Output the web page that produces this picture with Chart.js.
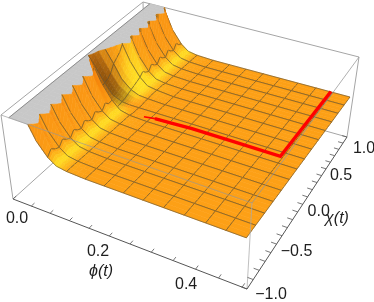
<!DOCTYPE html>
<html>
<head>
<meta charset="utf-8">
<style>
  html, body { margin: 0; padding: 0; background: #fff; }
  canvas { display: block; }
</style>
<script src="https://cdn.jsdelivr.net/npm/chart.js@4"></script>
</head>
<body>
<canvas id="surface" width="374" height="302"></canvas>
<script>
// Sample positions of the surface
const chiValues = [-1, -.952, -.905, -.857, -.81, -.762, -.714, -.667, -.619, -.571, -.524, -.476, -.429, -.381, -.333, -.286, -.238, -.19, -.143, -.095, -.048, 0, .048, .095, .143, .19, .238, .286, .333, .381, .429, .476, .524, .571, .619, .667, .714, .762, .81, .857, .905, .952, 1];
const phiValues = [.02, .04, .065, .085, .11, .13, .155, .2, .245, .29, .335, .38, .425, .47, .512, .553];
const meshPhi = [.02, .065, .11, .155, .2, .245, .29, .335, .38, .425, .47, .512, .553];

// Height of the flat part for each chi (fraction of the box height)
const flatLevel = [.58, .578, .576, .574, .571, .569, .567, .565, .563, .561, .559, .556, .554, .552, .55, .548, .546, .544, .541, .539, .537, .535, .533, .531, .529, .526, .524, .522, .52, .518, .516, .514, .511, .509, .507, .505, .503, .501, .499, .496, .494, .492, .49];

// Height above the flat part, one row per phi value up to .155
const lift020 = [1.4, 1.4, 1.4, 1.4, 1.4, 1.4, 1.4, 1.4, 1.4, 1.4, 1.4, 1.4, 1.4, 1.4, 1.4, 1.4, 1.4, 1.4, 1.4, 1.1, .9, .5, .56, .6, .8, 1, 1.4, 1.4, 1.4, 1.4, 1.4, 1.4, 1.4, 1.4, 1.4, 1.4, 1.4, 1.4, 1.4, 1.4, 1.4, 1.4, 1.4];
const lift040 = [1, 1, 1, 1, 1, 1, 1, 1, 1, 1, 1, 1, 1, 1, 1, 1, 1, 1, .9, .7, .4, .36, .4, .42, .5, .56, .65, .75, 1, 1, 1, 1, 1, 1, 1, 1, 1, 1, 1, 1, 1, 1, 1];
const lift065 = [.45, .72, .58, .45, .72, .58, .45, .72, .58, .45, .72, .58, .45, .72, .58, .45, .72, .58, .5, .12, .16, .18, .2, .24, .32, .36, .4, .47, .72, .58, .45, .72, .58, .45, .72, .58, .45, .72, .58, .45, .72, .58, .45];
const lift085 = [.25, .42, .33, .25, .42, .33, .25, .42, .33, .25, .42, .33, .25, .42, .33, .25, .42, .33, .3, .03, .05, .06, .08, .11, .16, .2, .23, .28, .42, .33, .25, .42, .33, .25, .42, .33, .25, .42, .33, .25, .42, .33, .25];
const lift110 = [.1, .16, .12, .1, .16, .12, .1, .16, .12, .1, .16, .12, .1, .16, .12, .1, .16, .12, .13, 0, 0, .01, .02, .04, .06, .08, .1, .12, .16, .12, .1, .16, .12, .1, .16, .12, .1, .16, .12, .1, .16, .12, .1];
const lift130 = [.03, .05, .04, .03, .05, .04, .03, .05, .04, .03, .05, .04, .03, .05, .04, .03, .05, .04, .04, 0, 0, 0, 0, .01, .02, .03, .04, .04, .05, .04, .03, .05, .04, .03, .05, .04, .03, .05, .04, .03, .05, .04, .03];
const lift155 = [.01, .01, .01, .01, .01, .01, .01, .01, .01, .01, .01, .01, .01, .01, .01, .01, .01, .01, .01, 0, 0, 0, 0, .01, .01, .02, .02, .02, .02, .02, .01, .01, .01, .01, .01, .01, .01, .01, .01, .01, .01, .01, .01];
const liftRows = [lift020, lift040, lift065, lift085, lift110, lift130, lift155];

// How dark the valley wall looks and how bright its foot is, per chi and per phi row
const valleyShadow = [0, 0, 0, 0, 0, 0, 0, 0, 0, 0, 0, 0, 0, 0, 0, 0, 0, 0, 0, 0, .4, .85, .9, .55, .15, 0, 0, 0, 0, 0, 0, 0, 0, 0, 0, 0, 0, 0, 0, 0, 0, 0, 0];
const shadowRows = [.5, .8, 1, 1, .6, 0, 0, 0, 0, 0, 0, 0, 0, 0, 0, 0];
const valleyGlow = [0, 0, 0, 0, 0, 0, 0, 0, 0, 0, 0, 0, 0, 0, 0, 0, 0, 0, 0, 0, 0, 0, 0, 0, .4, .8, 1, 1, .8, .5, .3, 0, 0, 0, 0, 0, 0, 0, 0, 0, 0, 0, 0];
const glowRows = [0, 0, .3, .8, 1, .6, .1, 0, 0, 0, 0, 0, 0, 0, 0, 0];

// Red path over the surface
const pathPhi = [.185, .21, .25, .3, .4, .507, .507];
const pathChi = [-.1, -.08, -.07, -.06, -.06, -.06, 1];

// Axis ticks and labels
const phiTicks = [0, .05, .1, .15, .2, .25, .3, .35, .4, .45, .5, .55];
const phiLabels = ['0.0', '0.2', '0.4'];
const phiLabelValues = [0, .2, .4];
const chiTicks = [-1, -.9, -.8, -.7, -.6, -.5, -.4, -.3, -.2, -.1, 0, .1, .2, .3, .4, .5, .6, .7, .8, .9, 1];
const chiLabels = ['\u22121.0', '\u22120.5', '0.0', '0.5', '1.0'];
const chiLabelValues = [-1, -.5, 0, .5, 1];

const phiAxisMax = .56;

// Box corners on screen: front-left, front-right, back-right, back-left
const bottomCorners = [[13, 199], [247, 289], [347, 137], [145, 80]];
const topCorners = [[1, 115], [252, 203], [359, 57], [143, 2]];

function squareToQuad(q) {
  const [[x0, y0], [x1, y1], [x2, y2], [x3, y3]] = q;
  const dx1 = x1 - x2, dx2 = x3 - x2, sx = x0 - x1 + x2 - x3;
  const dy1 = y1 - y2, dy2 = y3 - y2, sy = y0 - y1 + y2 - y3;
  const den = dx1 * dy2 - dx2 * dy1;
  const g = (sx * dy2 - dx2 * sy) / den;
  const h = (dx1 * sy - sx * dy1) / den;
  return (u, v) => {
    const d = g * u + h * v + 1;
    return {
      x: ((x1 - x0 + g * x1) * u + (x3 - x0 + h * x3) * v + x0) / d,
      y: ((y1 - y0 + g * y1) * u + (y3 - y0 + h * y3) * v + y0) / d
    };
  };
}

const bottomMap = squareToQuad(bottomCorners);
const topMap = squareToQuad(topCorners);

function project(phi, chi, w) {
  const u = phi / phiAxisMax, v = (chi + 1) / 2;
  const a = bottomMap(u, v), b = topMap(u, v);
  return { x: a.x + (b.x - a.x) * w, y: a.y + (b.y - a.y) * w };
}

const lastPhi = phiValues.length - 1;
const lastChi = chiValues.length - 1;

function liftAt(i, j) {
  const row = liftRows[i];
  return row ? row[j] : 0;
}

function heightAt(i, j) {
  return flatLevel[j] + liftAt(i, j);
}

// Cut a polygon at the top of the box
function clipAtTop(pts, keepAbove) {
  const out = [];
  const inside = p => keepAbove ? p.w >= 1 : p.w <= 1;
  pts.forEach((p, n) => {
    const q = pts[(n + 1) % pts.length];
    if (inside(p)) out.push(p);
    if (inside(p) !== inside(q)) {
      const t = (1 - p.w) / (q.w - p.w);
      out.push({ phi: p.phi + (q.phi - p.phi) * t, chi: p.chi + (q.chi - p.chi) * t, w: 1 });
    }
  });
  return out;
}

function mix(a, b, t) {
  t = Math.max(0, Math.min(1, t));
  return a.map((v, n) => v + (b[n] - v) * t);
}

function smooth(lo, hi, v) {
  const t = Math.max(0, Math.min(1, (v - lo) / (hi - lo)));
  return t * t * (3 - 2 * t);
}

const ORANGE = [253, 160, 22];
const YELLOW = [255, 224, 36];
const DEEP = [245, 132, 12];
const LIGHT = [255, 168, 28];
const BROWN = [128, 74, 12];

// Height with the saw teeth averaged out, so the light stays broad
function evenHeight(i, j) {
  const a = Math.max(0, j - 1), b = Math.min(lastChi, j + 1);
  let sum = 0;
  for (let n = a; n <= b; n++) sum += liftAt(i, n);
  return sum / (b - a + 1);
}

function vertexColor(i, j) {
  const i0 = Math.max(0, i - 1), i1 = Math.min(lastPhi, i + 1);
  const j0 = Math.max(0, j - 2), j1 = Math.min(lastChi, j + 2);
  const du = .45 * (evenHeight(i1, j) - evenHeight(i0, j)) / ((phiValues[i1] - phiValues[i0]) / phiAxisMax);
  const dv = .45 * (evenHeight(i, j1) - evenHeight(i, j0)) / ((chiValues[j1] - chiValues[j0]) / 2);
  const g = Math.hypot(du, dv);
  const glow = smooth(.08, .4, g) * (1 - smooth(.7, 1.7, g));
  let col = mix(ORANGE, YELLOW, glow);
  const steep = smooth(1.2, 2.4, g);
  col = mix(col, j % 3 === 0 ? LIGHT : DEEP, steep * (j % 3 === 2 ? .4 : .9));
  if (dv < 0) col = mix(col, DEEP, smooth(.3, .8, -dv) * .8);
  col = mix(col, YELLOW, valleyGlow[j] * glowRows[i]);
  col = mix(col, BROWN, valleyShadow[j] * shadowRows[i]);
  return col;
}

const colorGrid = phiValues.map((p, i) => chiValues.map((c, j) => vertexColor(i, j)));

const layers = [];

function addPolygon(points, color) {
  layers.push({
    data: points.concat([points[0]]),
    showLine: true,
    fill: 'shape',
    backgroundColor: color,
    borderColor: color,
    borderWidth: .6,
    pointRadius: 0,
    tension: 0
  });
}

function addLine(points, color, width) {
  layers.push({
    data: points,
    showLine: true,
    fill: false,
    borderColor: color,
    borderWidth: width,
    pointRadius: 0,
    tension: 0
  });
}

const BOX = 'rgb(165,165,165)';
const AXIS = 'rgb(85,85,85)';
const MESH = 'rgba(92,78,48,0.78)';

// Hidden box edges go first, the surface paints over them
addLine([project(0, -1, 0), project(0, 1, 0)], BOX, 1);
addLine([project(0, 1, 0), project(phiAxisMax, 1, 0)], BOX, 1);
addLine([project(0, 1, 0), project(0, 1, 1)], BOX, 1);
addLine([project(0, -1, 0), project(0, -1, 1)], BOX, 1);
addLine([project(phiAxisMax, 1, 0), project(phiAxisMax, 1, 1)], BOX, 1);
addLine([project(0, -1, 1), project(0, 1, 1)], BOX, 1);
addLine([project(0, 1, 1), project(phiAxisMax, 1, 1)], BOX, 1);

function corners(i, j) {
  return [
    { phi: phiValues[i], chi: chiValues[j], w: heightAt(i, j) },
    { phi: phiValues[i + 1], chi: chiValues[j], w: heightAt(i + 1, j) },
    { phi: phiValues[i + 1], chi: chiValues[j + 1], w: heightAt(i + 1, j + 1) },
    { phi: phiValues[i], chi: chiValues[j + 1], w: heightAt(i, j + 1) }
  ];
}

const toScreen = p => project(p.phi, p.chi, p.w);
const along = (a, b, t) => ({ phi: a.phi + (b.phi - a.phi) * t, chi: a.chi + (b.chi - a.chi) * t, w: a.w + (b.w - a.w) * t });

// Clipped top of the surface, flat grey on the box lid
for (let j = 0; j < lastChi; j++) {
  for (let i = 0; i < liftRows.length - 1; i++) {
    const part = clipAtTop(corners(i, j), true);
    if (part.length > 2) addPolygon(part.map(p => project(p.phi, p.chi, 1)), 'rgb(200,200,200)');
  }
}
addLine([project(.02, -1, 1), project(.02, 1, 1)], 'rgb(120,120,120)', .8);

// Surface cells, far to near; the steep rows are split so the light blends
for (let j = lastChi - 1; j >= 0; j--) {
  for (let i = 0; i < lastPhi; i++) {
    const quad = corners(i, j);
    const strips = i < liftRows.length ? 4 : 1;
    const near = mix(colorGrid[i][j], colorGrid[i][j + 1], .5);
    const far = mix(colorGrid[i + 1][j], colorGrid[i + 1][j + 1], .5);
    for (let k = 0; k < strips; k++) {
      const t0 = k / strips, t1 = (k + 1) / strips;
      const strip = [along(quad[0], quad[1], t0), along(quad[0], quad[1], t1), along(quad[3], quad[2], t1), along(quad[3], quad[2], t0)];
      const kept = clipAtTop(strip, false);
      if (kept.length < 3) continue;
      const col = mix(near, far, (t0 + t1) / 2);
      addPolygon(kept.map(toScreen), 'rgb(' + col.map(Math.round).join(',') + ')');
    }

    // Mesh lines that run along this cell's sides
    const sides = [];
    if (meshPhi.includes(phiValues[i])) sides.push([quad[0], quad[3]]);
    if (meshPhi.includes(phiValues[i + 1])) sides.push([quad[1], quad[2]]);
    if (j % 3 === 0) sides.push([quad[0], quad[1]]);
    if ((j + 1) % 3 === 0) sides.push([quad[3], quad[2]]);
    const pts = [];
    sides.forEach(([a, b]) => {
      const seg = clipAtTop([a, b], false);
      if (seg.length < 2) return;
      pts.push(toScreen(seg[0]), toScreen(seg[1]), { x: NaN, y: NaN });
    });
    if (pts.length) addLine(pts, MESH, .8);
  }
}

// Box edges in front of the surface
addLine([project(0, -1, 1), project(phiAxisMax, -1, 1)], 'rgba(150,150,150,0.65)', 1);
addLine([project(phiAxisMax, -1, 1), project(phiAxisMax, 1, 1)], 'rgba(150,150,150,0.75)', 1);
addLine([project(phiAxisMax, -1, 0), project(phiAxisMax, -1, 1)], 'rgba(170,170,170,0.75)', 1);

// Axes with their ticks
addLine([project(0, -1, 0), project(phiAxisMax, -1, 0)], AXIS, 1);
addLine([project(phiAxisMax, -1, 0), project(phiAxisMax, 1, 0)], AXIS, 1);
phiTicks.forEach(v => addLine([project(v, -1, 0), project(v, -.96, 0)], AXIS, .8));
chiTicks.forEach(v => addLine([project(phiAxisMax, v, 0), project(phiAxisMax - .012, v, 0)], AXIS, .8));

// Red path, thin where it leaves the valley
function pathHeight(chi) {
  let best = 0;
  chiValues.forEach((c, j) => { if (Math.abs(c - chi) < Math.abs(chiValues[best] - chi)) best = j; });
  return flatLevel[best] + .005;
}
const pathPoints = pathPhi.map((p, n) => project(p, pathChi[n], pathHeight(pathChi[n])));
addLine(pathPoints.slice(0, 2), 'rgb(255,0,0)', 1.6);
addLine(pathPoints.slice(1), 'rgb(255,0,0)', 3.4);

const TEXT = 'rgb(30,30,30)';
// Screen offsets of the labels from their ticks
const phiLabelOffsets = [[4, 20], [9, 23], [13, 24]];
const chiLabelOffsets = [[24, 6], [20, 8], [16, 7], [15, 7], [17, 12]];

const labelPlugin = {
  id: 'labelPlugin',
  afterDraw(chart) {
    const { ctx, scales } = chart;
    const place = (p, dx, dy) => [scales.x.getPixelForValue(p.x) + dx, scales.y.getPixelForValue(p.y) + dy];
    ctx.save();
    ctx.fillStyle = TEXT;
    ctx.textAlign = 'center';
    ctx.textBaseline = 'middle';
    ctx.font = '16px "Liberation Sans"';
    phiLabels.forEach((t, n) => {
      const [x, y] = place(project(phiLabelValues[n], -1, 0), phiLabelOffsets[n][0], phiLabelOffsets[n][1]);
      ctx.fillText(t, x, y);
    });
    chiLabels.forEach((t, n) => {
      const [x, y] = place(project(phiAxisMax, chiLabelValues[n], 0), chiLabelOffsets[n][0], chiLabelOffsets[n][1]);
      ctx.fillText(t, x, y);
    });
    ctx.font = 'italic 16px "Liberation Sans"';
    ctx.fillText('\u03D5(t)', scales.x.getPixelForValue(101), scales.y.getPixelForValue(272));
    ctx.fillText('\u03C7(t)', scales.x.getPixelForValue(337), scales.y.getPixelForValue(219));
    ctx.restore();
  }
};

new Chart(document.getElementById('surface'), {
  type: 'scatter',
  // Chart.js paints the first dataset last
  data: { datasets: layers.slice().reverse() },
  options: {
    responsive: false,
    animation: false,
    events: [],
    layout: { padding: 0 },
    scales: {
      x: { type: 'linear', min: 0, max: 374, display: false },
      y: { type: 'linear', min: 0, max: 302, reverse: true, display: false }
    },
    plugins: { legend: { display: false }, tooltip: { enabled: false } }
  },
  plugins: [labelPlugin]
});
</script>
</body>
</html>
